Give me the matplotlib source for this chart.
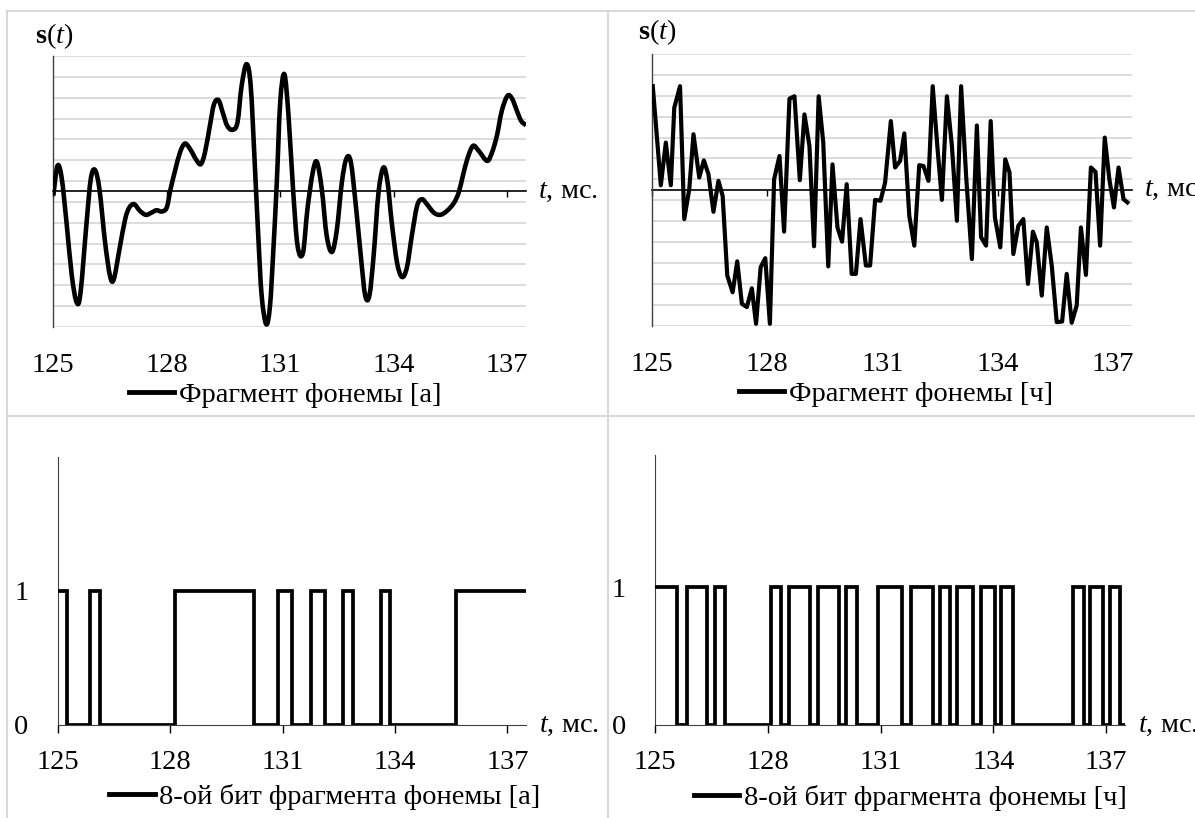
import matplotlib
matplotlib.use('Agg')
import matplotlib.pyplot as plt
from matplotlib.lines import Line2D
from matplotlib.path import Path
from matplotlib.patches import PathPatch
from matplotlib.transforms import blended_transform_factory

plt.rcParams['font.family'] = ['Liberation Serif', 'DejaVu Serif']
plt.rcParams['mathtext.fontset'] = 'custom'
plt.rcParams['mathtext.rm'] = 'Liberation Serif'
plt.rcParams['mathtext.it'] = 'Liberation Serif:italic'
plt.rcParams['mathtext.bf'] = 'Liberation Serif:bold'

# подписи оси времени (мс)
xticks = [125, 128, 131, 134, 137]

# фрагмент фонемы [а] - время (мс) и амплитуда (в делениях сетки)
t_a = [125.00, 125.11, 125.22, 125.35, 125.49, 125.62, 125.72, 125.88, 125.99, 126.10,
       126.22, 126.37, 126.50, 126.60, 126.75, 126.90, 127.01, 127.14, 127.29, 127.45,
       127.60, 127.73, 127.87, 128.00, 128.10, 128.22, 128.35, 128.48, 128.62, 128.77,
       128.90, 129.01, 129.14, 129.25, 129.37, 129.48, 129.60, 129.74, 129.87, 129.98,
       130.11, 130.22, 130.33, 130.42, 130.51, 130.63, 130.73, 130.82, 130.91, 131.00,
       131.11, 131.22, 131.34, 131.46, 131.60, 131.72, 131.86, 131.97, 132.10, 132.23,
       132.37, 132.50, 132.63, 132.75, 132.87, 133.01, 133.14, 133.25, 133.36, 133.47,
       133.60, 133.73, 133.84, 133.95, 134.09, 134.22, 134.35, 134.48, 134.62, 134.75,
       134.88, 135.06, 135.23, 135.41, 135.59, 135.72, 135.83, 135.96, 136.10, 136.25,
       136.47, 136.60, 136.73, 136.86, 137.01, 137.13, 137.26, 137.37, 137.50]
s_a = [-0.20, 1.23, 0.67, -1.49, -4.05, -5.33, -4.85, -1.49, 0.59, 1.04,
       0.11, -2.45, -4.05, -4.21, -2.77, -1.33, -0.77, -0.61, -0.93, -1.12,
       -1.01, -0.90, -0.96, -0.77, 0.11, 1.00, 1.87, 2.30, 2.03, 1.55,
       1.31, 1.87, 3.15, 4.19, 4.38, 3.79, 3.15, 2.96, 3.31, 5.07,
       6.11, 5.07, 1.23, -2.13, -5.00, -6.37, -5.49, -2.77, 0.43, 4.27,
       5.63, 3.63, 0.11, -2.61, -2.96, -0.85, 0.91, 1.42, 0.11, -2.13,
       -2.90, -1.81, 0.43, 1.58, 1.39, -0.85, -3.25, -5.01, -4.98, -3.09,
       -0.05, 1.15, 0.43, -1.49, -3.41, -4.10, -3.65, -2.13, -0.69, -0.37,
       -0.61, -1.01, -1.12, -0.93, -0.56, -0.05, 0.75, 1.63, 2.19, 1.95,
       1.47, 1.87, 2.67, 3.87, 4.59, 4.46, 3.87, 3.39, 3.18]

# фрагмент фонемы [ч]
t_ch = [125.02, 125.23, 125.36, 125.49, 125.58, 125.73, 125.84, 125.97, 126.08, 126.23,
        126.35, 126.47, 126.60, 126.73, 126.84, 126.96, 127.10, 127.22, 127.34, 127.47,
        127.60, 127.71, 127.83, 127.95, 128.07, 128.18, 128.32, 128.44, 128.58, 128.71,
        128.85, 128.97, 129.10, 129.22, 129.34, 129.46, 129.59, 129.70, 129.83, 129.95,
        130.07, 130.20, 130.31, 130.43, 130.57, 130.68, 130.81, 130.95, 131.07, 131.22,
        131.33, 131.46, 131.57, 131.70, 131.83, 131.96, 132.07, 132.20, 132.31, 132.43,
        132.55, 132.68, 132.81, 132.94, 133.05, 133.18, 133.33, 133.46, 133.57, 133.70,
        133.82, 133.93, 134.07, 134.20, 134.31, 134.41, 134.54, 134.67, 134.79, 134.92,
        135.02, 135.15, 135.28, 135.41, 135.54, 135.68, 135.80, 135.93, 136.06, 136.17,
        136.30, 136.43, 136.55, 136.67, 136.79, 136.91, 137.03, 137.15, 137.28, 137.38]
s_ch = [4.96, 0.22, 2.26, 0.22, 3.93, 4.96, -1.40, 0.03, 2.66, 0.59,
        1.41, 0.75, -1.05, 0.43, -0.29, -4.10, -4.90, -3.42, -5.45, -5.61,
        -4.71, -6.41, -3.70, -3.27, -6.41, 0.51, 1.62, -2.00, 4.36, 4.48,
        0.46, 3.61, 2.10, -2.70, 4.48, 2.26, -3.66, 1.22, -1.80, -2.48,
        0.27, -4.02, -4.02, -1.40, -3.62, -3.62, -0.48, -0.52, 0.35, 3.29,
        1.07, 1.38, 2.70, -1.24, -2.67, 1.18, 1.14, 0.43, 4.96, 2.10,
        -0.48, 4.48, 2.10, -1.48, 4.96, 0.67, -3.31, 3.08, -2.27, -2.67,
        3.29, -1.32, -2.75, 1.46, 0.83, -3.07, -1.72, -1.40, -4.50, -2.00,
        -2.51, -5.06, -1.80, -3.62, -6.33, -6.30, -4.02, -6.36, -5.53, -1.80,
        -4.07, 1.07, 0.86, -2.67, 2.50, 0.51, -0.84, 1.07, -0.45, -0.60]

# 8-ой бит: границы интервалов (мс) и значения бита
edges_a = [125, 125.25, 125.875, 126.125, 128.125, 130.25, 130.875, 131.25, 131.75,
           132.125, 132.625, 132.875, 133.625, 133.875, 135.625, 137.5]
bits_a = [1, 0, 1, 0, 1, 0, 1, 0, 1, 0, 1, 0, 1, 0, 1]

edges_ch = [125, 125.59, 125.86, 126.37, 126.59, 126.86, 128.08, 128.34, 128.56, 129.12,
            129.34, 129.90, 130.09, 130.36, 130.93, 131.57, 131.82, 132.40, 132.57, 132.84,
            133.04, 133.46, 133.68, 134.03, 134.21, 134.52, 136.12, 136.41, 136.58, 136.91,
            137.09, 137.38, 137.5]
bits_ch = [1, 0, 1, 0, 1, 0, 1, 0, 1, 0, 1, 0, 1, 0, 1, 0,
           1, 0, 1, 0, 1, 0, 1, 0, 1, 0, 1, 0, 1, 0, 1, 0]

W, H = 1195, 818
fig = plt.figure(figsize=(W / 100, H / 100), dpi=100)
fs = 20.5


def box(x0, y0, x1, y1):
    # прямоугольник осей в пикселях картинки
    return [x0 / W, 1 - y1 / H, (x1 - x0) / W, (y1 - y0) / H]


def smooth_path(t, s):
    # сглаженная линия как в Excel (кривые Безье через точки)
    pts = list(zip(t, s))
    verts = [pts[0]]
    codes = [Path.MOVETO]
    n = len(pts)
    for i in range(n - 1):
        p0 = pts[max(i - 1, 0)]
        p1 = pts[i]
        p2 = pts[i + 1]
        p3 = pts[min(i + 2, n - 1)]
        c1 = (p1[0] + (p2[0] - p0[0]) / 6, p1[1] + (p2[1] - p0[1]) / 6)
        c2 = (p2[0] - (p3[0] - p1[0]) / 6, p2[1] - (p3[1] - p1[1]) / 6)
        verts += [c1, c2, p2]
        codes += [Path.CURVE4] * 3
    return Path(verts, codes)


def signal_panel(rect, t, s, name, lw, smooth, legx):
    ax = fig.add_axes(rect)
    if smooth:
        ax.add_patch(PathPatch(smooth_path(t, s), fill=False, edgecolor='black', lw=lw,
                               joinstyle='round', capstyle='butt', zorder=3))
    else:
        ax.plot(t, s, color='black', lw=lw, solid_joinstyle='round', zorder=3)
    ax.set_xlim(125, 137.5)
    ax.set_ylim(-6.5, 6.5)
    ax.set_yticks([y + 0.5 for y in range(-7, 7)])
    ax.yaxis.grid(True, color='#d9d9d9', lw=1.3)
    ax.tick_params(axis='y', length=0, labelleft=False)
    for sp in ['top', 'right']:
        ax.spines[sp].set_visible(False)
    ax.spines['left'].set_color('#404040')
    ax.spines['left'].set_linewidth(1.0)
    ax.spines['bottom'].set_position(('data', 0))
    ax.spines['bottom'].set_linewidth(1.2)
    ax.spines['bottom'].set_zorder(2)
    ax.set_xticks(xticks)
    ax.tick_params(axis='x', direction='out', length=4, width=1, labelbottom=False)
    sec = ax.secondary_xaxis(-0.095)
    sec.set_xticks(xticks)
    sec.spines['bottom'].set_visible(False)
    sec.tick_params(length=0, pad=0, labelsize=fs)
    ax.text(1.025, 0, r'$t$, мс.', transform=blended_transform_factory(ax.transAxes, ax.transData),
            ha='left', va='center', fontsize=fs, clip_on=False)
    ax.plot([], [], color='black', lw=3.5, label=name)
    ax.legend(loc='center', bbox_to_anchor=(legx, -0.25), frameon=False, fontsize=fs,
              handlelength=1.6, handletextpad=0.15, borderaxespad=0)
    return ax


def bit_panel(rect, edges, bits, name, ytop, legx):
    ax = fig.add_axes(rect)
    ax.stairs(bits, edges, baseline=None, color='black', lw=2.7, zorder=3)
    ax.set_xlim(125, 137.5)
    ax.set_ylim(0, ytop)
    ax.set_yticks([0, 1])
    ax.tick_params(axis='y', length=0, pad=21, labelsize=fs)
    for sp in ['top', 'right']:
        ax.spines[sp].set_visible(False)
    ax.spines['left'].set_color('#404040')
    ax.spines['bottom'].set_color('#404040')
    ax.set_xticks(xticks)
    ax.tick_params(axis='x', direction='out', length=6, width=1, pad=12, labelsize=fs)
    ax.text(1.028, 0, r'$t$, мс.', transform=blended_transform_factory(ax.transAxes, ax.transData),
            ha='left', va='center', fontsize=fs, clip_on=False)
    ax.plot([], [], color='black', lw=3.5, label=name)
    ax.legend(loc='center', bbox_to_anchor=(legx, -0.27), frameon=False, fontsize=fs,
              handlelength=1.6, handletextpad=0.15, borderaxespad=0)
    return ax


ax1 = signal_panel(box(53.3, 56, 526, 327), t_a, s_a, 'Фрагмент фонемы [а]', 3.3, True, 0.49)
ax1.text(-0.038, 1.074, r'$\mathbf{s}(t)$', transform=ax1.transAxes, ha='left', va='center', fontsize=fs)
ax2 = signal_panel(box(652, 54, 1132, 325.7), t_ch, s_ch, 'Фрагмент фонемы [ч]', 3.0, False, 0.508)
ax2.text(-0.029, 1.081, r'$\mathbf{s}(t)$', transform=ax2.transAxes, ha='left', va='center', fontsize=fs)

ax3 = bit_panel(box(57.7, 457, 526.2, 725), edges_a, bits_a, '8-ой бит фрагмента фонемы [а]', 2.0, 0.57)
ax4 = bit_panel(box(655, 455, 1125, 725), edges_ch, bits_ch, '8-ой бит фрагмента фонемы [ч]', 1.96, 0.543)

# рамки таблицы
border = '#d4d4d4'
for xs, ys in [((7, W), (10.5, 10.5)), ((7, 7), (10.5, H)), ((607.5, 607.5), (10.5, H)),
               ((7, W), (416, 416))]:
    fig.add_artist(Line2D([x / W for x in xs], [1 - y / H for y in ys], color=border, lw=1.3,
                          transform=fig.transFigure))

fig.savefig('out.png', dpi=100)
